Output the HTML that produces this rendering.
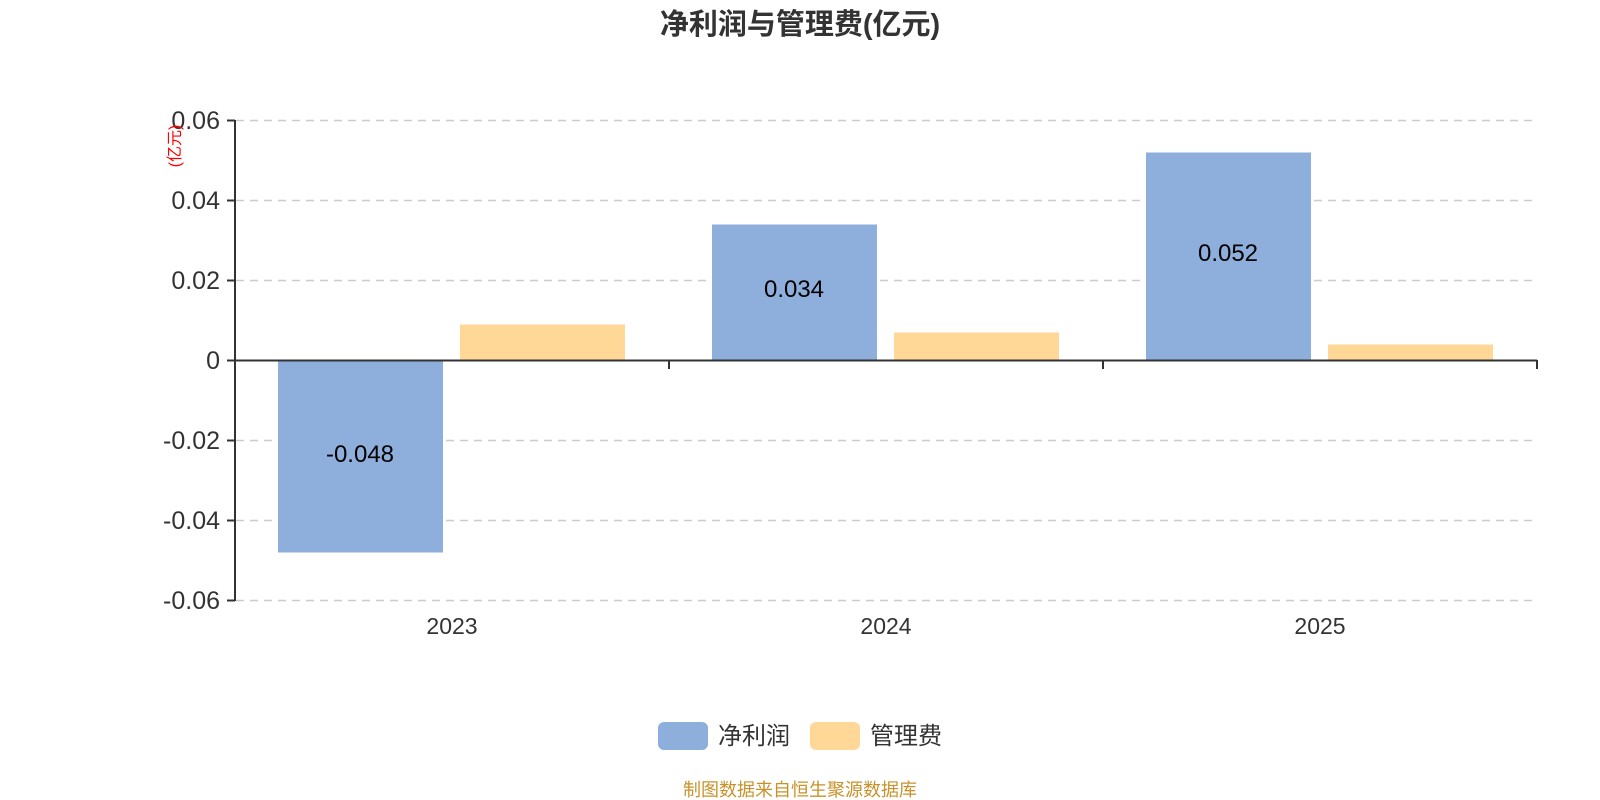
<!DOCTYPE html>
<html><head><meta charset="utf-8"><style>body{margin:0;background:#fff}svg{display:block}</style></head><body>
<svg width="1600" height="800" xmlns="http://www.w3.org/2000/svg" font-family="Liberation Sans, Noto Sans CJK SC, sans-serif">
<text x="800" y="34" text-anchor="middle" font-size="29" font-weight="bold" fill="#333">净利润与管理费(亿元)</text>
<g stroke="#ccc" stroke-width="1.5" stroke-dasharray="8,6">
<line x1="236" y1="120.5" x2="1537" y2="120.5"/><line x1="236" y1="200.5" x2="1537" y2="200.5"/><line x1="236" y1="280.5" x2="1537" y2="280.5"/><line x1="236" y1="440.5" x2="1537" y2="440.5"/><line x1="236" y1="520.5" x2="1537" y2="520.5"/><line x1="236" y1="600.5" x2="1537" y2="600.5"/>
</g>
<g fill="#8eaedb">
<rect x="278" y="360.5" width="165" height="192"/><rect x="712" y="224.5" width="165" height="136"/><rect x="1146" y="152.5" width="165" height="208"/>
</g>
<g fill="#ffd898">
<rect x="460" y="324.5" width="165" height="36"/><rect x="894" y="332.5" width="165" height="28"/><rect x="1328" y="344.5" width="165" height="16"/>
</g>
<g stroke="#333" stroke-width="2" fill="none">
<line x1="235" y1="120" x2="235" y2="601"/>
<line x1="227" y1="120.5" x2="235" y2="120.5"/><line x1="227" y1="200.5" x2="235" y2="200.5"/><line x1="227" y1="280.5" x2="235" y2="280.5"/><line x1="227" y1="360.5" x2="235" y2="360.5"/><line x1="227" y1="440.5" x2="235" y2="440.5"/><line x1="227" y1="520.5" x2="235" y2="520.5"/><line x1="227" y1="600.5" x2="235" y2="600.5"/>
<line x1="235" y1="360.5" x2="1537" y2="360.5"/>
<line x1="669" y1="360" x2="669" y2="369"/><line x1="1103" y1="360" x2="1103" y2="369"/><line x1="1537" y1="360" x2="1537" y2="369"/>
</g>
<g font-size="25" fill="#333" text-anchor="end">
<text x="220" y="129">0.06</text><text x="220" y="209">0.04</text><text x="220" y="289">0.02</text><text x="220" y="369">0</text><text x="220" y="449">-0.02</text><text x="220" y="529">-0.04</text><text x="220" y="609">-0.06</text>
</g>
<text transform="translate(180,146) rotate(-90)" text-anchor="middle" font-size="16" fill="#f00">(亿元)</text>
<g font-size="23" fill="#333" text-anchor="middle">
<text x="452" y="634">2023</text><text x="886" y="634">2024</text><text x="1320" y="634">2025</text>
</g>
<g font-size="24" fill="#000" text-anchor="middle">
<text x="360" y="462">-0.048</text><text x="794" y="297">0.034</text><text x="1228" y="261">0.052</text>
</g>
<rect x="658" y="722" width="50" height="28" rx="6" fill="#8eaedb"/>
<text x="718" y="744" font-size="24" fill="#333">净利润</text>
<rect x="810" y="722" width="50" height="28" rx="6" fill="#ffd898"/>
<text x="870" y="744" font-size="24" fill="#333">管理费</text>
<text x="800" y="796" text-anchor="middle" font-size="18" fill="#c8922a">制图数据来自恒生聚源数据库</text>
</svg>
</body></html>
